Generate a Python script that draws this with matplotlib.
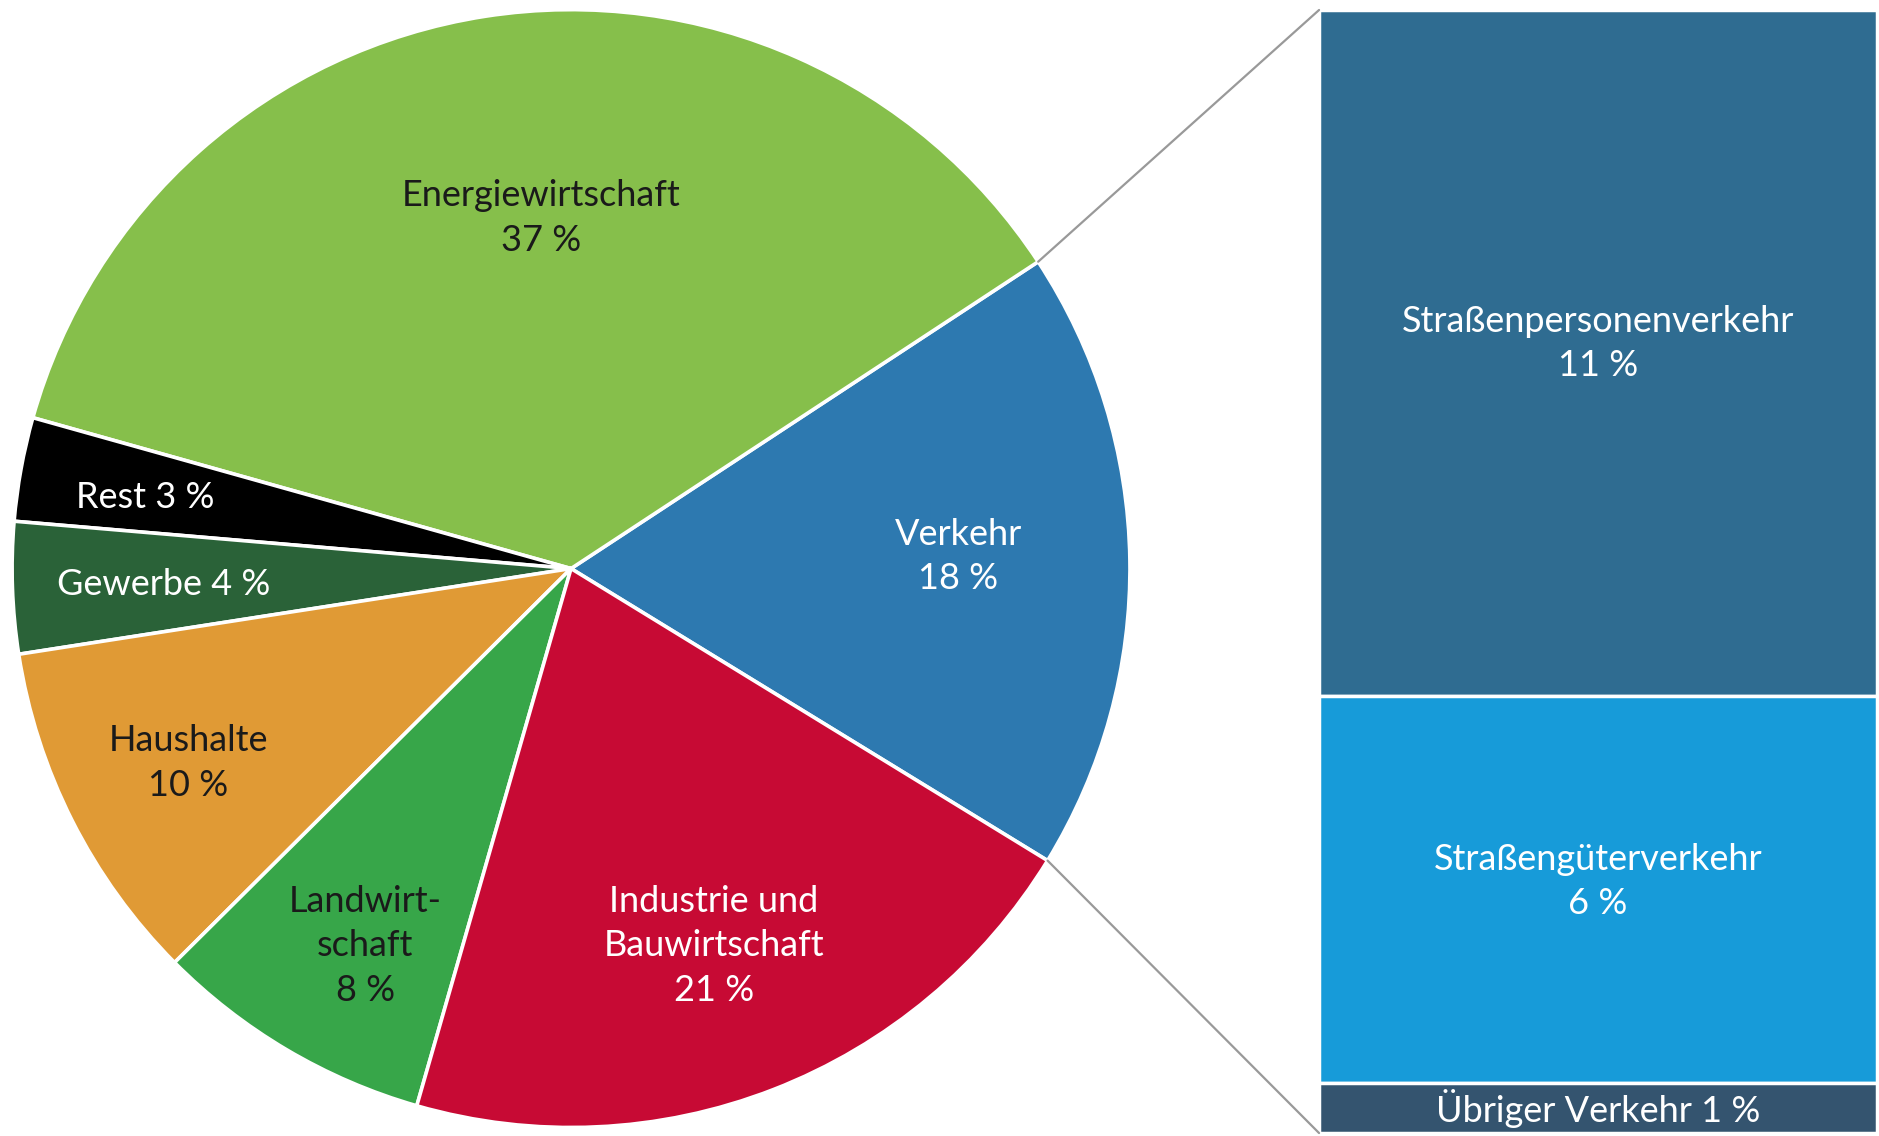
#Emissions by sector: pie with the transport slice broken out as a stacked bar
import numpy as np
import matplotlib.pyplot as plt
from matplotlib.patches import ConnectionPatch

#Pie slices, counterclockwise starting with Verkehr
sectors=['Verkehr','Energiewirtschaft','Rest','Gewerbe','Haushalte','Landwirtschaft','Industrie und Bauwirtschaft']
shares=[18.0,36.4,3.0,3.8,10.0,8.1,20.7]
pie_labels=['Verkehr\n18 %','Energiewirtschaft\n37 %','Rest 3 %','Gewerbe 4 %','Haushalte\n10 %',
            'Landwirt-\nschaft\n8 %','Industrie und\nBauwirtschaft\n21 %']
pie_colors=['#2d79b0','#86bf4b','#000000','#2a6238','#e09a35','#37a649','#c70a34']
pie_text_colors=['white','#1a1a1a','white','white','#1a1a1a','#1a1a1a','white']
pie_text_pos=[(0.693,0.022),(-0.053,0.627),(-0.762,0.128),(-0.728,-0.029),
              (-0.685,-0.348),(-0.368,-0.675),(0.256,-0.675)]

#Transport breakdown, top to bottom
transport=['Straßenpersonenverkehr','Straßengüterverkehr','Übriger Verkehr']
transport_shares=[11.0,6.2,0.8]
transport_labels=['Straßenpersonenverkehr\n11 %','Straßengüterverkehr\n6 %','Übriger Verkehr 1 %']
transport_colors=['#2f6c91','#179bd9','#34546f']

plt.rcParams['font.family']=['Lato','DejaVu Sans']
fs=26
ls=1.42

fig=plt.figure(figsize=(18.79,11.36),dpi=100)

#Pie
ax=fig.add_axes([0.0064,0.0075,0.595,0.984])
start=-31.5
wedges,_=ax.pie(shares,colors=pie_colors,startangle=start,counterclock=True,radius=1,
                wedgeprops=dict(edgecolor='white',linewidth=2.6))
ax.set_xlim(-1,1)
ax.set_ylim(-1,1)
ax.set_aspect('equal')
ax.axis('off')

for lab,(x,y),c in zip(pie_labels,pie_text_pos,pie_text_colors):
  ax.text(x,y,lab,ha='center',va='center',color=c,fontsize=fs,linespacing=ls)

#Stacked bar for transport
bx=fig.add_axes([0.702,0.0026,0.297,0.9886])
total=sum(transport_shares)
bottom=total
for val,col in zip(transport_shares,transport_colors):
  bottom-=val
  bx.bar(0,val,bottom=bottom,width=1,color=col,edgecolor='white',linewidth=2.5)
bx.set_xlim(-0.5,0.5)
bx.set_ylim(0,total)
bx.axis('off')

#Labels inside the bar
bx.text(0,total-5.35,transport_labels[0],ha='center',va='center',color='white',fontsize=fs,linespacing=ls)
bx.text(0,4.03,transport_labels[1],ha='center',va='center',color='white',fontsize=fs,linespacing=ls)
bx.text(0,transport_shares[2]/2,transport_labels[2],ha='center',va='center',color='white',fontsize=fs)

#Connector lines from the Verkehr slice to the bar
w=wedges[0]
for ang,yb in [(w.theta2,total),(w.theta1,0)]:
  p=(np.cos(np.radians(ang)),np.sin(np.radians(ang)))
  con=ConnectionPatch(xyA=p,coordsA=ax.transData,xyB=(-0.5,yb),coordsB=bx.transData,
                      color='#999999',linewidth=1.6)
  fig.add_artist(con)

fig.savefig('out.png',dpi=100)
